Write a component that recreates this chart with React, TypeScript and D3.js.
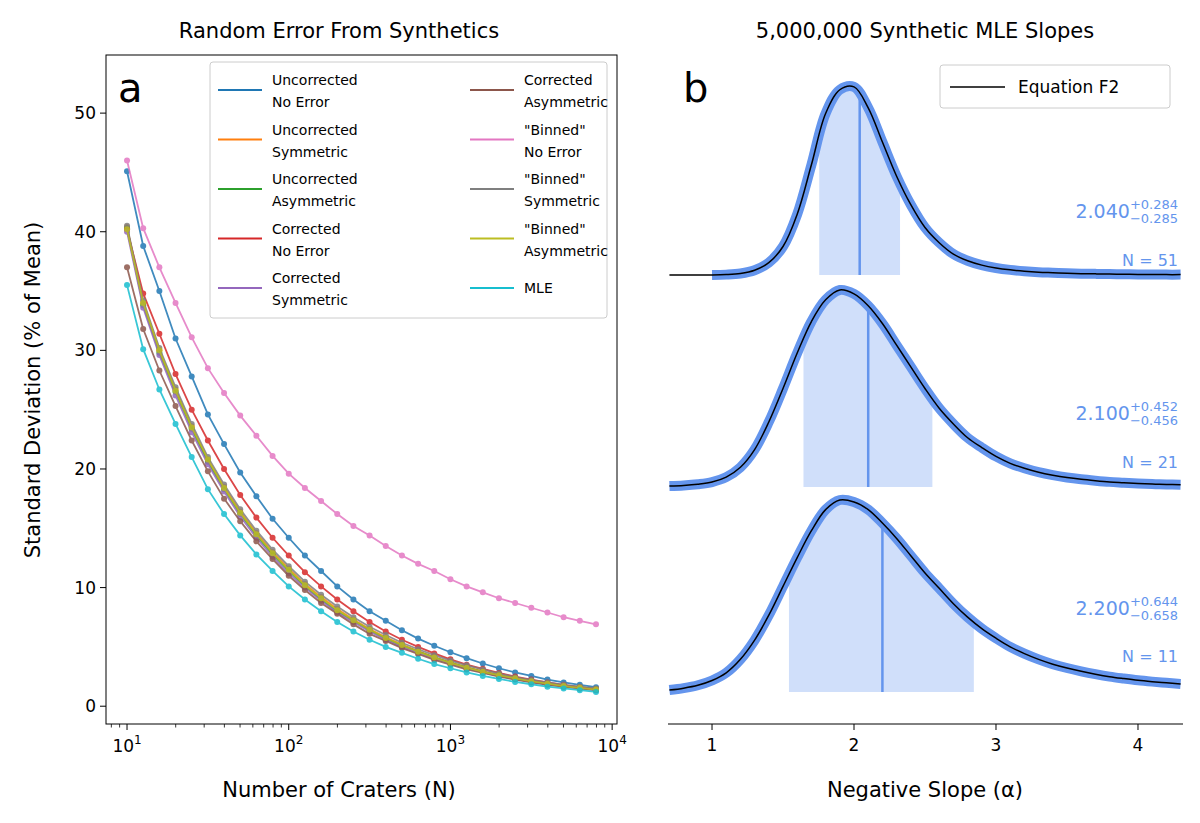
import * as d3 from "d3";

// ---------- panel a data ----------
const logN = d3.range(30).map((i) => 1 + i * 0.1);
const craters = logN.map((l) => Math.pow(10, l));

const uncorrNoErr = [45.1, 38.8, 35.0, 31.0, 27.8, 24.6, 22.1, 19.7, 17.7, 15.8, 14.2, 12.7, 11.4, 10.1, 9.0, 8.0, 7.2, 6.4, 5.7, 5.1, 4.55, 4.05, 3.6, 3.2, 2.85, 2.55, 2.25, 2.0, 1.8, 1.6];
const uncorrSym = [40.4, 34.0, 30.0, 26.7, 23.6, 20.8, 18.5, 16.4, 14.6, 13.0, 11.6, 10.3, 9.2, 8.2, 7.3, 6.5, 5.8, 5.2, 4.65, 4.15, 3.7, 3.3, 2.95, 2.65, 2.4, 2.15, 1.95, 1.75, 1.6, 1.45];
const uncorrAsym = [40.3, 33.8, 29.8, 26.5, 23.4, 20.6, 18.3, 16.2, 14.4, 12.8, 11.4, 10.1, 9.0, 8.0, 7.2, 6.4, 5.7, 5.1, 4.6, 4.1, 3.65, 3.25, 2.9, 2.6, 2.35, 2.1, 1.9, 1.7, 1.55, 1.4];
const corrNoErr = [40.2, 34.8, 31.4, 28.0, 25.0, 22.4, 20.0, 17.8, 15.9, 14.2, 12.7, 11.3, 10.1, 9.0, 8.0, 7.1, 6.3, 5.6, 5.0, 4.45, 3.95, 3.5, 3.15, 2.8, 2.5, 2.25, 2.0, 1.8, 1.6, 1.45];
const corrSym = [40.0, 33.6, 29.6, 26.2, 23.1, 20.4, 18.1, 16.0, 14.2, 12.6, 11.2, 10.0, 8.9, 7.9, 7.1, 6.3, 5.6, 5.0, 4.5, 4.0, 3.6, 3.2, 2.85, 2.55, 2.3, 2.05, 1.85, 1.65, 1.5, 1.35];
const corrAsym = [37.0, 31.8, 28.3, 25.3, 22.4, 19.8, 17.5, 15.6, 13.9, 12.4, 11.0, 9.8, 8.7, 7.8, 6.9, 6.1, 5.5, 4.9, 4.4, 3.9, 3.5, 3.1, 2.8, 2.5, 2.25, 2.0, 1.8, 1.65, 1.5, 1.35];
const binNoErr = [46.0, 40.3, 37.0, 34.0, 31.1, 28.5, 26.4, 24.5, 22.8, 21.1, 19.6, 18.4, 17.3, 16.2, 15.2, 14.4, 13.5, 12.7, 12.0, 11.4, 10.7, 10.1, 9.6, 9.1, 8.7, 8.3, 7.9, 7.5, 7.2, 6.9];
const binSym = [40.5, 34.2, 30.2, 26.9, 23.8, 21.0, 18.7, 16.6, 14.8, 13.2, 11.8, 10.5, 9.4, 8.4, 7.5, 6.7, 6.0, 5.35, 4.8, 4.3, 3.85, 3.45, 3.1, 2.75, 2.45, 2.2, 2.0, 1.8, 1.65, 1.5];
const binAsym = [40.2, 34.0, 30.0, 26.6, 23.5, 20.8, 18.4, 16.3, 14.5, 12.9, 11.5, 10.2, 9.1, 8.1, 7.25, 6.45, 5.75, 5.15, 4.6, 4.1, 3.65, 3.25, 2.9, 2.6, 2.35, 2.1, 1.9, 1.7, 1.55, 1.4];
const mle = [35.5, 30.1, 26.7, 23.8, 21.0, 18.3, 16.2, 14.4, 12.8, 11.4, 10.1, 9.0, 8.0, 7.1, 6.3, 5.6, 5.0, 4.5, 4.0, 3.55, 3.2, 2.85, 2.55, 2.3, 2.05, 1.85, 1.65, 1.5, 1.35, 1.2];

const seriesA = [
  { l1: "Uncorrected", l2: "No Error", c: "#1f77b4", v: uncorrNoErr },
  { l1: "Uncorrected", l2: "Symmetric", c: "#ff7f0e", v: uncorrSym },
  { l1: "Uncorrected", l2: "Asymmetric", c: "#2ca02c", v: uncorrAsym },
  { l1: "Corrected", l2: "No Error", c: "#d62728", v: corrNoErr },
  { l1: "Corrected", l2: "Symmetric", c: "#9467bd", v: corrSym },
  { l1: "Corrected", l2: "Asymmetric", c: "#8c564b", v: corrAsym },
  { l1: "\"Binned\"", l2: "No Error", c: "#e377c2", v: binNoErr },
  { l1: "\"Binned\"", l2: "Symmetric", c: "#7f7f7f", v: binSym },
  { l1: "\"Binned\"", l2: "Asymmetric", c: "#bcbd22", v: binAsym },
  { l1: "MLE", l2: "", c: "#17becf", v: mle },
];
const yTicksA = [0, 10, 20, 30, 40, 50];

// ---------- panel b data ----------
const alphas = d3.range(37).map((i) => 0.7 + i * 0.1);
const pdf51 = [0, 0, 0, 0, 0.002, 0.008, 0.025, 0.065, 0.15, 0.32, 0.58, 0.85, 0.975, 0.99, 0.88, 0.7, 0.52, 0.37, 0.25, 0.17, 0.11, 0.075, 0.052, 0.037, 0.027, 0.02, 0.015, 0.012, 0.009, 0.007, 0.006, 0.005, 0.004, 0.003, 0.003, 0.002, 0.002];
const pdf21 = [0.005, 0.008, 0.014, 0.025, 0.05, 0.1, 0.19, 0.33, 0.5, 0.68, 0.84, 0.95, 1.0, 0.98, 0.92, 0.83, 0.72, 0.61, 0.5, 0.4, 0.32, 0.25, 0.2, 0.155, 0.12, 0.095, 0.075, 0.06, 0.048, 0.039, 0.032, 0.026, 0.022, 0.018, 0.015, 0.013, 0.011];
const pdf11 = [0.01, 0.02, 0.035, 0.06, 0.1, 0.17, 0.27, 0.4, 0.55, 0.7, 0.84, 0.95, 1.0, 0.99, 0.95, 0.88, 0.8, 0.71, 0.62, 0.54, 0.46, 0.39, 0.33, 0.28, 0.235, 0.2, 0.17, 0.145, 0.125, 0.108, 0.093, 0.08, 0.07, 0.061, 0.054, 0.048, 0.042];
const curvesB = [
  { n: 51, pdf: pdf51, med: "2.040", up: "+0.284", lo: "\u22120.285", m: 2.04, dUp: 0.284, dLo: 0.285, base: 275, h: 190, blueFrom: 1.0, medY: 218, nY: 266 },
  { n: 21, pdf: pdf21, med: "2.100", up: "+0.452", lo: "\u22120.456", m: 2.1, dUp: 0.452, dLo: 0.456, base: 487, h: 197, blueFrom: 0.7, medY: 420, nY: 468 },
  { n: 11, pdf: pdf11, med: "2.200", up: "+0.644", lo: "\u22120.658", m: 2.2, dUp: 0.644, dLo: 0.658, base: 692, h: 192, blueFrom: 0.7, medY: 615, nY: 662 },
];
const xTicksB = [1, 2, 3, 4];

const FONT = "DejaVu Sans, sans-serif";
const BLUE = "#6495ed";

export default function App() {
  const xA = d3.scaleLog().domain([Math.pow(10, 0.87), Math.pow(10, 4.03)]).range([106, 617]);
  const yA = d3.scaleLinear().domain([-1.5, 54.9]).range([724, 55]);
  const lineA = d3.line<number>().x((_, i) => xA(craters[i])).y((d) => yA(d));
  const minor: number[] = [];
  for (let e = 0; e < 4; e++) for (let k = 2; k < 10; k++) {
    const v = k * Math.pow(10, e);
    if (v > xA.domain()[0] && v < xA.domain()[1]) minor.push(v);
  }

  const xB = d3.scaleLinear().domain([0.69, 4.317]).range([668, 1183]);

  return (
    <svg width={1200} height={823} style={{ position: "absolute", left: 0, top: 0, fontFamily: FONT }}>
      <rect width={1200} height={823} fill="#fff" />
      {/* ---- panel a ---- */}
      <text x={339} y={38} textAnchor="middle" fontSize={21}>Random Error From Synthetics</text>
      <clipPath id="clipA"><rect x={106} y={55} width={511} height={669} /></clipPath>
      <g clipPath="url(#clipA)">
        {seriesA.map((s) => (
          <g key={s.l1 + s.l2} opacity={0.85}>
            <path d={lineA(s.v) as string} fill="none" stroke={s.c} strokeWidth={1.8} />
            {s.v.map((v, i) => <circle key={i} cx={xA(craters[i])} cy={yA(v)} r={3} fill={s.c} />)}
          </g>
        ))}
      </g>
      <rect x={106} y={55} width={511} height={669} fill="none" stroke="#000" strokeWidth={1} />
      {yTicksA.map((t) => (
        <g key={t}>
          <line x1={100} x2={106} y1={yA(t)} y2={yA(t)} stroke="#000" />
          <text x={96} y={yA(t) + 6} textAnchor="end" fontSize={17}>{t}</text>
        </g>
      ))}
      {[1, 2, 3, 4].map((e) => (
        <g key={e}>
          <line x1={xA(Math.pow(10, e))} x2={xA(Math.pow(10, e))} y1={724} y2={730} stroke="#000" />
          <text x={xA(Math.pow(10, e))} y={752} textAnchor="middle" fontSize={17}>
            10<tspan dy={-8} fontSize={12}>{e}</tspan>
          </text>
        </g>
      ))}
      {minor.map((v) => <line key={v} x1={xA(v)} x2={xA(v)} y1={724} y2={727.5} stroke="#000" strokeWidth={0.8} />)}
      <text x={339} y={797} textAnchor="middle" fontSize={21}>Number of Craters (N)</text>
      <text transform="translate(40,390) rotate(-90)" textAnchor="middle" fontSize={21}>Standard Deviation (% of Mean)</text>
      <text x={118} y={102} fontSize={40}>a</text>
      <rect x={210} y={62} width={397} height={256} fill="#fff" fillOpacity={0.8} stroke="#ccc" rx={3} />
      {seriesA.map((s, i) => {
        const col = Math.floor(i / 5);
        const row = i % 5;
        const lx = col === 0 ? 218 : 470;
        const ly = 90 + row * 49.5;
        return (
          <g key={i}>
            <line x1={lx} x2={lx + 44} y1={ly} y2={ly} stroke={s.c} strokeWidth={2} />
            {s.l2 ? (
              <>
                <text x={lx + 54} y={ly - 5} fontSize={14}>{s.l1}</text>
                <text x={lx + 54} y={ly + 17} fontSize={14}>{s.l2}</text>
              </>
            ) : (
              <text x={lx + 54} y={ly + 5} fontSize={14}>{s.l1}</text>
            )}
          </g>
        );
      })}

      {/* ---- panel b ---- */}
      <text x={925} y={38} textAnchor="middle" fontSize={21}>5,000,000 Synthetic MLE Slopes</text>
      {curvesB.map((c) => {
        const y = (p: number) => c.base - p * c.h;
        const pts = alphas.map((a, i) => [a, c.pdf[i]] as [number, number]);
        const line = d3.line<[number, number]>().x((d) => xB(d[0])).y((d) => y(d[1])).curve(d3.curveCatmullRom);
        const area = d3.area<[number, number]>().x((d) => xB(d[0])).y0(c.base).y1((d) => y(d[1])).curve(d3.curveCatmullRom);
        const lo = c.m - c.dLo;
        const hi = c.m + c.dUp;
        const interp = d3.scaleLinear().domain(alphas).range(c.pdf);
        const id = "clip" + c.n;
        return (
          <g key={c.n}>
            <clipPath id={id}><rect x={xB(lo)} y={0} width={xB(hi) - xB(lo)} height={823} /></clipPath>
            <path d={area(pts) as string} fill={BLUE} fillOpacity={0.3} clipPath={`url(#${id})`} />
            <line x1={xB(c.m)} x2={xB(c.m)} y1={c.base} y2={y(interp(c.m))} stroke={BLUE} strokeWidth={2.5} />
            <path d={line(pts.filter((p) => p[0] >= c.blueFrom - 1e-9)) as string} fill="none" stroke={BLUE} strokeWidth={10} />
            <path d={line(pts) as string} fill="none" stroke="#000" strokeWidth={1.5} />
            <text x={1178} y={c.medY} textAnchor="end" fontSize={19} fill={BLUE}>
              {c.med}
              <tspan fontSize={13} dy={-9}>{c.up}</tspan>
            </text>
            <text x={1178} y={c.medY + 5} textAnchor="end" fontSize={13} fill={BLUE}>{c.lo}</text>
            <text x={1178} y={c.nY} textAnchor="end" fontSize={16} fill={BLUE}>N = {c.n}</text>
          </g>
        );
      })}
      <line x1={668} x2={1183} y1={724} y2={724} stroke="#000" />
      {xTicksB.map((t) => (
        <g key={t}>
          <line x1={xB(t)} x2={xB(t)} y1={724} y2={730} stroke="#000" />
          <text x={xB(t)} y={751} textAnchor="middle" fontSize={17}>{t}</text>
        </g>
      ))}
      <text x={925} y={797} textAnchor="middle" fontSize={21}>Negative Slope (α)</text>
      <text x={683} y={102} fontSize={40}>b</text>
      <rect x={940} y={65} width={230} height={43} fill="#fff" stroke="#ccc" rx={3} />
      <line x1={950} x2={1005} y1={87} y2={87} stroke="#000" strokeWidth={1.5} />
      <text x={1018} y={93} fontSize={17}>Equation F2</text>
    </svg>
  );
}
